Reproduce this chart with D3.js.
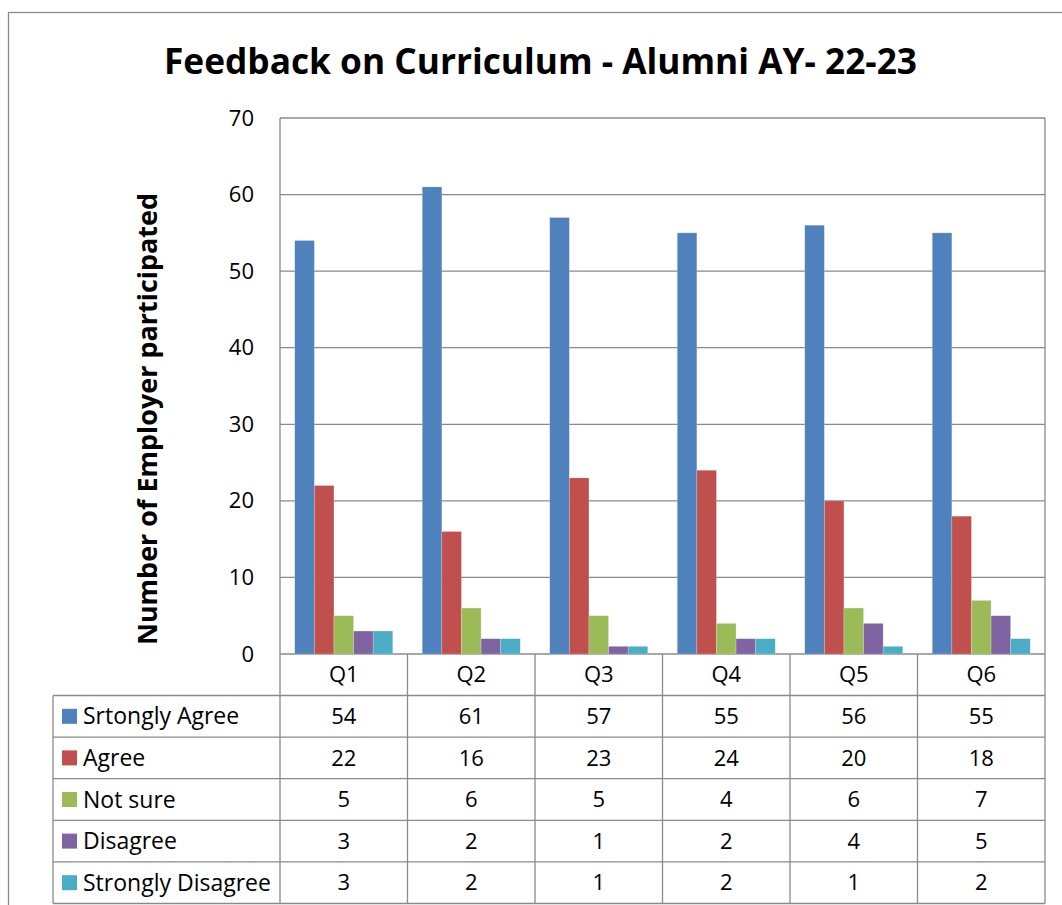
<!DOCTYPE html>
<html>
<head>
<meta charset="utf-8">
<script src="https://cdn.jsdelivr.net/npm/d3@7"></script>
<style>
  html, body { margin: 0; padding: 0; background: #ffffff; }
  svg { display: block; }
  text { font-family: "Open Sans", "Noto Sans", sans-serif; fill: #000; }
</style>
</head>
<body>
<svg id="chart" width="1062" height="905"></svg>
<script>
// ---- data ----
const categories = ["Q1", "Q2", "Q3", "Q4", "Q5", "Q6"];
const seriesNames = ["Srtongly Agree", "Agree", "Not sure", "Disagree", "Strongly Disagree"];
const stronglyAgree    = [54, 61, 57, 55, 56, 55];
const agree            = [22, 16, 23, 24, 20, 18];
const notSure          = [5, 6, 5, 4, 6, 7];
const disagree         = [3, 2, 1, 2, 4, 5];
const stronglyDisagree = [3, 2, 1, 2, 1, 2];
const yTicks = [0, 10, 20, 30, 40, 50, 60, 70];
const seriesColors = ["#4F81BD", "#C0504D", "#9BBB59", "#8064A2", "#4BACC6"];
const titleText = "Feedback on Curriculum - Alumni AY- 22-23";
const yTitleText = "Number of Employer participated";

const seriesValues = [stronglyAgree, agree, notSure, disagree, stronglyDisagree];

// ---- layout ----
const plot = { left: 280, right: 1045, top: 118, bottom: 654 };
const tableLeft = 53;
const headerBottom = 695.5;
const rowH = 41.6;
const gridColor = "#8a8a8a";

const svg = d3.select("#chart");

// outer border
svg.append("rect")
  .attr("x", 8.5).attr("y", 12.5)
  .attr("width", 1100).attr("height", 1000)
  .attr("fill", "none").attr("stroke", gridColor).attr("stroke-width", 1.3);

// scales
const x = d3.scaleBand()
  .domain(categories)
  .range([plot.left, plot.right])
  .paddingInner(0.2314)
  .paddingOuter(0.1157);
const xs = d3.scaleBand()
  .domain(seriesNames)
  .range([0, x.bandwidth()]);
const y = d3.scaleLinear().domain([0, 70]).range([plot.bottom, plot.top]);

// gridlines
svg.append("g").selectAll("line")
  .data(yTicks)
  .join("line")
  .attr("x1", plot.left).attr("x2", plot.right)
  .attr("y1", d => y(d)).attr("y2", d => y(d))
  .attr("stroke", gridColor).attr("stroke-width", 1.3);

// plot border sides
svg.append("line").attr("x1", plot.left).attr("x2", plot.left)
  .attr("y1", plot.top).attr("y2", plot.bottom)
  .attr("stroke", gridColor).attr("stroke-width", 1.3);
svg.append("line").attr("x1", plot.right).attr("x2", plot.right)
  .attr("y1", plot.top).attr("y2", plot.bottom)
  .attr("stroke", gridColor).attr("stroke-width", 1.3);

// bars
const rows = [];
seriesNames.forEach((s, i) => {
  categories.forEach((c, j) => rows.push({ series: s, cat: c, value: seriesValues[i][j], color: seriesColors[i] }));
});
svg.append("g").selectAll("rect")
  .data(rows)
  .join("rect")
  .attr("x", d => x(d.cat) + xs(d.series))
  .attr("y", d => y(d.value))
  .attr("width", xs.bandwidth())
  .attr("height", d => y(0) - y(d.value))
  .attr("fill", d => d.color)
  .attr("stroke", "#ffffff").attr("stroke-opacity", 0.35).attr("stroke-width", 0.6);

// y axis labels
const yAxis = d3.axisLeft(y).tickValues(yTicks).tickSize(0).tickPadding(26);
const yg = svg.append("g").attr("transform", `translate(${plot.left},0)`).call(yAxis);
yg.select(".domain").remove();
yg.selectAll("text")
  .style("font-family", "'Open Sans', 'Noto Sans', sans-serif")
  .style("font-size", "22px").attr("fill", "#000");

// title (condensed to the reference's width)
svg.append("text")
  .attr("x", 540.5).attr("y", 74)
  .attr("text-anchor", "middle")
  .style("font-weight", "bold")
  .style("font-size", "35px")
  .attr("textLength", 753)
  .attr("lengthAdjust", "spacingAndGlyphs")
  .text(titleText);

// y title
svg.append("text")
  .attr("transform", "translate(157,419) rotate(-90)")
  .attr("text-anchor", "middle")
  .style("font-weight", "bold")
  .style("font-size", "27px")
  .attr("textLength", 452)
  .attr("lengthAdjust", "spacingAndGlyphs")
  .text(yTitleText);

// ---- data table ----
const tbl = svg.append("g");
const nRows = seriesNames.length;
const tableBottom = headerBottom + rowH * nRows;
const colEdges = categories.map(c => x(c) - x.step() * x.paddingInner() / 2).concat([plot.right]);

tbl.selectAll("line.v")
  .data(colEdges)
  .join("line").attr("class", "v")
  .attr("x1", d => d).attr("x2", d => d)
  .attr("y1", plot.bottom).attr("y2", tableBottom)
  .attr("stroke", gridColor).attr("stroke-width", 1.3);
tbl.append("line")
  .attr("x1", tableLeft).attr("x2", tableLeft)
  .attr("y1", headerBottom).attr("y2", tableBottom)
  .attr("stroke", gridColor).attr("stroke-width", 1.3);
tbl.selectAll("line.h")
  .data(d3.range(nRows + 1))
  .join("line").attr("class", "h")
  .attr("x1", tableLeft).attr("x2", plot.right)
  .attr("y1", i => headerBottom + i * rowH).attr("y2", i => headerBottom + i * rowH)
  .attr("stroke", gridColor).attr("stroke-width", 1.3);

tbl.selectAll("text.cat")
  .data(categories)
  .join("text").attr("class", "cat")
  .attr("x", d => x(d) + x.bandwidth() / 2)
  .attr("y", (plot.bottom + headerBottom) / 2)
  .attr("dy", "0.35em")
  .attr("text-anchor", "middle")
  .style("font-size", "22px")
  .text(d => d);

seriesNames.forEach((s, i) => {
  const cy = headerBottom + rowH * i + rowH / 2;
  tbl.append("rect")
    .attr("x", 62).attr("y", cy - 7.5)
    .attr("width", 15).attr("height", 15)
    .attr("fill", seriesColors[i]);
  tbl.append("text")
    .attr("x", 83).attr("y", cy).attr("dy", "0.35em")
    .style("font-size", "23px")
    .text(s);
  tbl.selectAll(null)
    .data(categories)
    .join("text")
    .attr("x", (c) => x(c) + x.bandwidth() / 2)
    .attr("y", cy).attr("dy", "0.35em")
    .attr("text-anchor", "middle")
    .style("font-size", "22px")
    .text((c, j) => seriesValues[i][j]);
});
</script>
</body>
</html>
